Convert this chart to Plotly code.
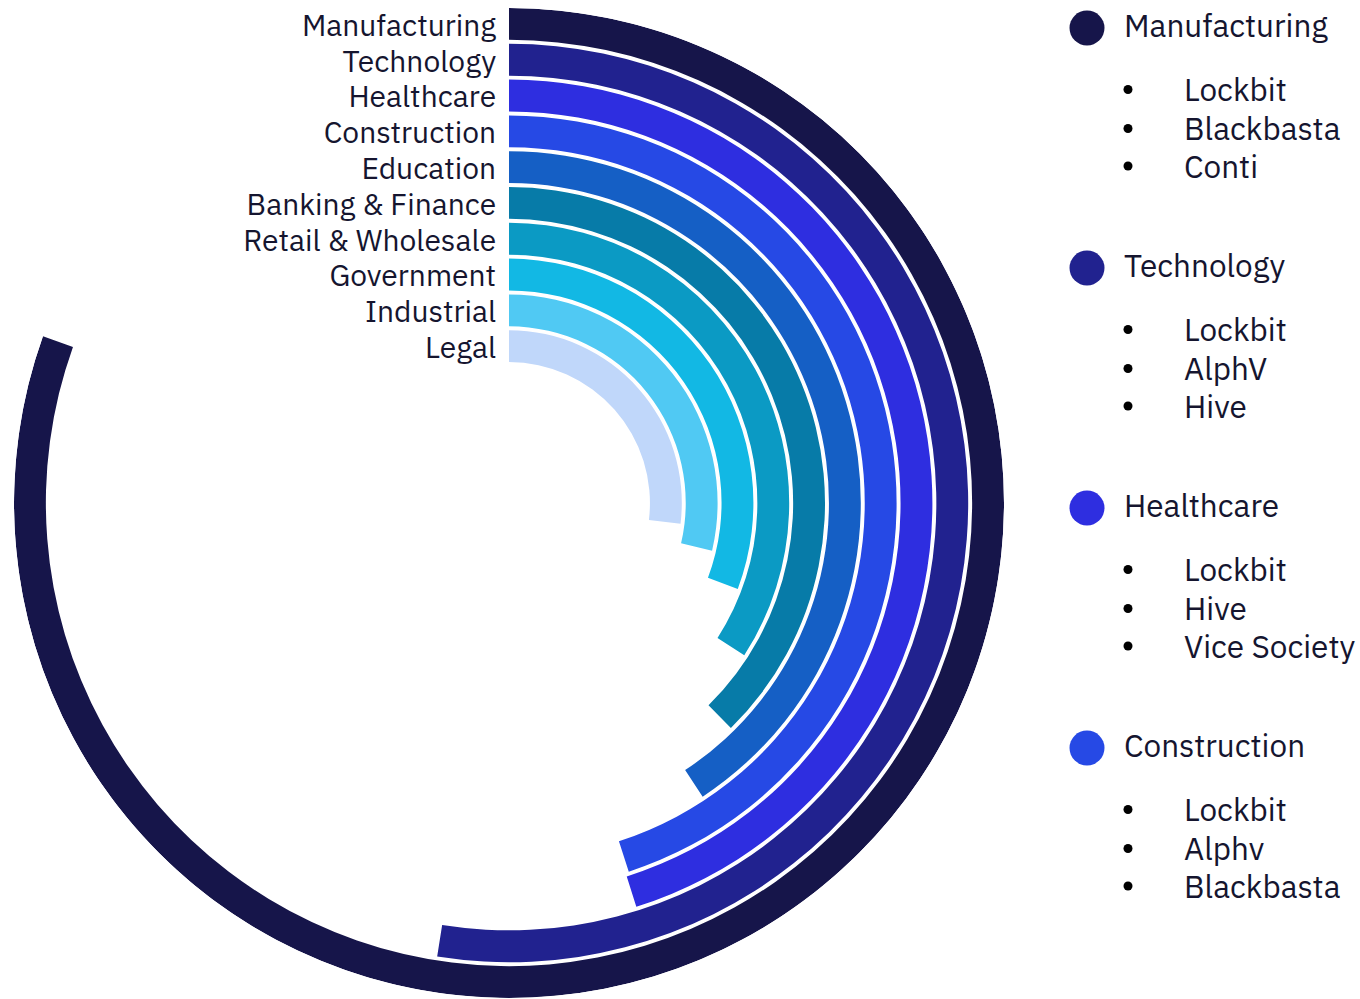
import plotly.graph_objects as go

# Sectors, from the outermost ring to the innermost
sectors = [
    "Manufacturing", "Technology", "Healthcare", "Construction", "Education",
    "Banking & Finance", "Retail & Wholesale", "Government", "Industrial", "Legal",
]
# Sweep of each ring, in degrees of a full turn (clockwise from 12 o'clock)
sweep_deg = [289.7, 189.0, 162.5, 162.0, 146.6, 135.4, 122.9, 110.6, 103.2, 96.9]
ring_colors = [
    "#16154A", "#21228F", "#2E2EE0", "#2649E5", "#155FC5",
    "#077BA8", "#0B9AC4", "#12B8E4", "#50C9F3", "#C0D7FA",
]

# Top ransomware groups for the leading sectors
legend_sectors = ["Manufacturing", "Technology", "Healthcare", "Construction"]
legend_groups = [
    ["Lockbit", "Blackbasta", "Conti"],
    ["Lockbit", "AlphV", "Hive"],
    ["Lockbit", "Hive", "Vice Society"],
    ["Lockbit", "Alphv", "Blackbasta"],
]

FONT = "IBM Plex Sans, Noto Sans, sans-serif"
TEXT_COLOR = "#15152F"
FONT_SIZE = 31.5
RING_LABEL_SIZE = 30

n = len(sectors)
gap = 0.11            # white gap between neighbouring rings (radial units)
band = 1 - gap

ring_index = [n - 1 - i for i in range(n)]          # outermost ring gets the highest index
bases = [k + gap for k in ring_index]
label_r = [k + gap + band / 2 - 0.12 for k in ring_index]

fig = go.Figure()

fig.add_trace(go.Barpolar(
    r=[band] * n,
    base=bases,
    theta=[v / 2 for v in sweep_deg],
    width=sweep_deg,
    marker=dict(color=ring_colors, line=dict(width=0)),
    hovertext=sectors,
    hoverinfo="text",
    showlegend=False,
))

# Sector names to the left of each ring's starting edge
fig.add_trace(go.Scatterpolar(
    r=label_r,
    theta=[0] * n,
    mode="markers+text",
    text=sectors,
    textposition="middle left",
    textfont=dict(family=FONT, size=RING_LABEL_SIZE, color=TEXT_COLOR),
    marker=dict(size=19, opacity=0),
    hoverinfo="skip",
    showlegend=False,
))

# Legend panel drawn on a hidden pixel-based cartesian frame
x_circle, x_header, x_bullet, x_item = 1087, 1122, 1128, 1182
first_baseline, group_step = 36, 240
item_offsets = [64.5, 103.5, 141]
cap_half = 11

header_y = [first_baseline + g * group_step - cap_half for g in range(len(legend_sectors))]
circle_colors = [ring_colors[sectors.index(s)] for s in legend_sectors]

fig.add_trace(go.Scatter(
    x=[x_circle] * len(legend_sectors),
    y=[y + 3 for y in header_y],
    mode="markers",
    marker=dict(size=35, color=circle_colors, line=dict(width=0)),
    hoverinfo="skip",
    showlegend=False,
    xaxis="x", yaxis="y",
))

annotations = []
bullet_y = []
for g, (name, groups) in enumerate(zip(legend_sectors, legend_groups)):
    base_y = first_baseline + g * group_step
    annotations.append(dict(
        x=x_header, y=base_y - cap_half, xref="x", yref="y",
        text=name, showarrow=False, xanchor="left", yanchor="middle",
        font=dict(family=FONT, size=FONT_SIZE, color=TEXT_COLOR),
    ))
    for off, grp in zip(item_offsets, groups):
        yy = base_y + off - cap_half
        bullet_y.append(yy)
        annotations.append(dict(
            x=x_item, y=yy, xref="x", yref="y",
            text=grp, showarrow=False, xanchor="left", yanchor="middle",
            font=dict(family=FONT, size=FONT_SIZE, color=TEXT_COLOR),
        ))

# List bullets
fig.add_trace(go.Scatter(
    x=[x_bullet] * len(bullet_y),
    y=bullet_y,
    mode="markers",
    marker=dict(size=9, color="#000000", line=dict(width=0)),
    hoverinfo="skip",
    showlegend=False,
    xaxis="x", yaxis="y",
))

W, H = 1360, 999
cx, cy, R, hole_px = 509, 503, 495, 137

fig.update_layout(
    width=W, height=H,
    margin=dict(l=0, r=0, t=0, b=0),
    paper_bgcolor="white",
    plot_bgcolor="rgba(0,0,0,0)",
    polar=dict(
        domain=dict(x=[(cx - R) / W, (cx + R) / W], y=[(H - cy - R) / H, (H - cy + R) / H]),
        hole=hole_px / R,
        bgcolor="rgba(0,0,0,0)",
        radialaxis=dict(range=[0, n], visible=False, showgrid=False),
        angularaxis=dict(rotation=90, direction="clockwise", visible=False, showgrid=False),
    ),
    xaxis=dict(domain=[0.75, 1], range=[0.75 * W, W], visible=False, fixedrange=True),
    yaxis=dict(domain=[0, 1], range=[H, 0], visible=False, fixedrange=True),
    annotations=annotations,
    showlegend=False,
)

fig.write_html("out.html")
